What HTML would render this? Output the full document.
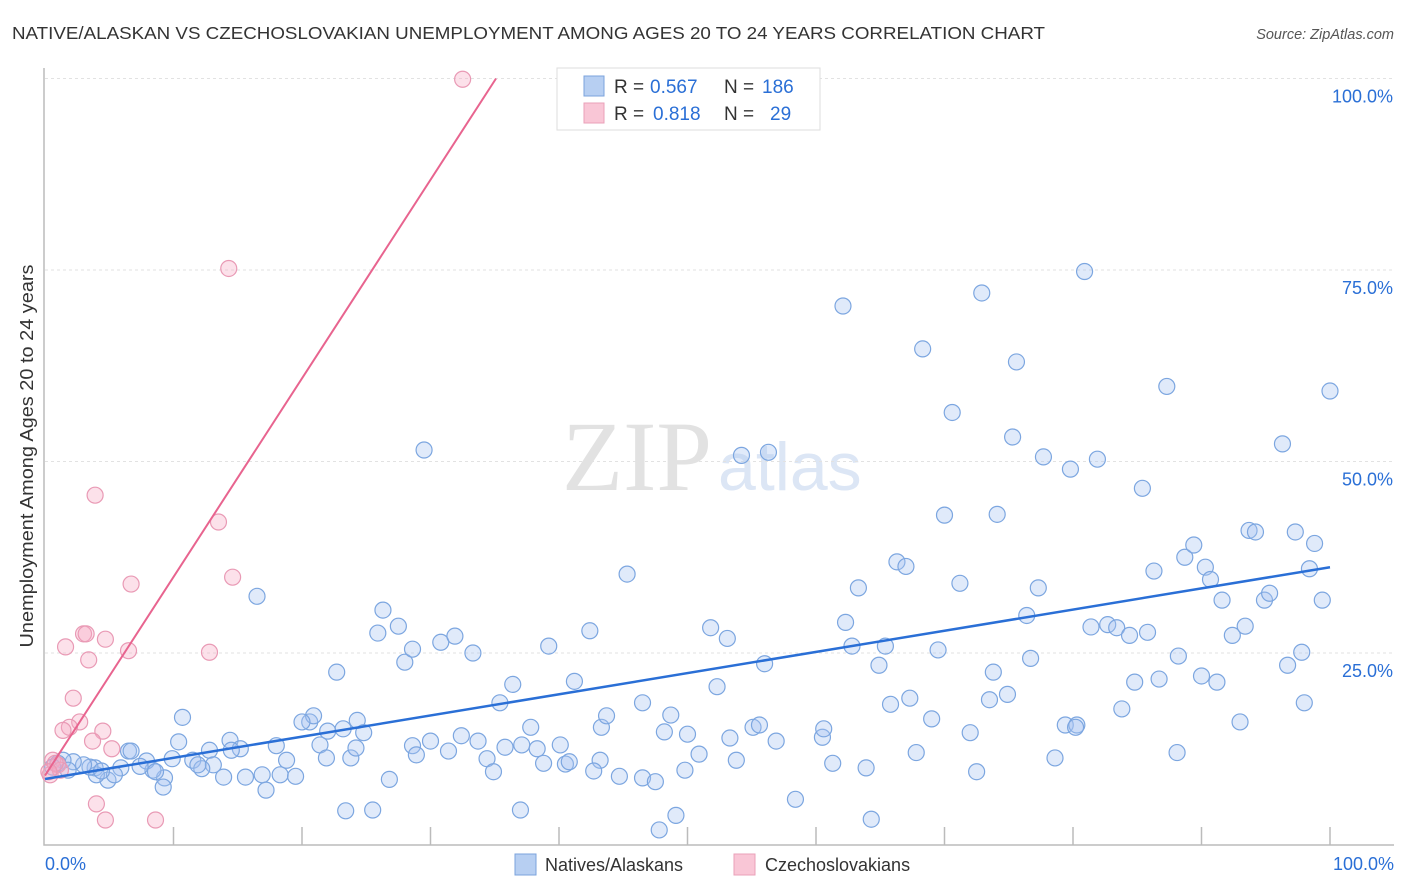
<!DOCTYPE html>
<html><head><meta charset="utf-8"><style>
body{margin:0;background:#fff;font-family:"Liberation Sans",sans-serif;}
svg{display:block}
</style></head><body>
<svg id="chart" width="1406" height="892" xmlns="http://www.w3.org/2000/svg">
<text x="12" y="39" font-size="17.5" fill="#333" textLength="1033" lengthAdjust="spacingAndGlyphs">NATIVE/ALASKAN VS CZECHOSLOVAKIAN UNEMPLOYMENT AMONG AGES 20 TO 24 YEARS CORRELATION CHART</text>
<text x="1394" y="39" font-size="14.5" fill="#555" font-style="italic" text-anchor="end">Source: ZipAtlas.com</text>
<g>
<text x="712" y="490" font-size="100" fill="#e2e2e2" text-anchor="end" font-family="Liberation Serif,serif">ZIP</text>
<text x="718" y="490" font-size="68" fill="#dce6f5">atlas</text>
</g>
<g id="grid"></g>
<g id="axes"></g>
<g id="pts"></g>
<g id="lines"></g>
<text x="33" y="456" font-size="18" fill="#333" text-anchor="middle" textLength="383" lengthAdjust="spacingAndGlyphs" transform="rotate(-90 33 456)">Unemployment Among Ages 20 to 24 years</text>
<g>
<rect x="557" y="68" width="263" height="62" fill="#fff" stroke="#ddd"/>
<rect x="584" y="76" width="20" height="20" fill="#b7cff2" stroke="#7ba3dc"/>
<rect x="584" y="103" width="20" height="20" fill="#f9c6d6" stroke="#eaa0b8"/>
<text x="614" y="93" font-size="19" fill="#333">R =</text>
<text x="650" y="93" font-size="19" fill="#2a6fd6">0.567</text>
<text x="724" y="93" font-size="19" fill="#333">N =</text>
<text x="762" y="93" font-size="19" fill="#2a6fd6">186</text>
<text x="614" y="120" font-size="19" fill="#333">R =</text>
<text x="653" y="120" font-size="19" fill="#2a6fd6">0.818</text>
<text x="724" y="120" font-size="19" fill="#333">N =</text>
<text x="770" y="120" font-size="19" fill="#2a6fd6">29</text>
</g>
<g>
<rect x="515" y="854" width="21" height="21" fill="#b7cff2" stroke="#7ba3dc"/>
<text x="545" y="871" font-size="18" fill="#333">Natives/Alaskans</text>
<rect x="734" y="854" width="21" height="21" fill="#f9c6d6" stroke="#eaa0b8"/>
<text x="765" y="871" font-size="18" fill="#333">Czechoslovakians</text>
</g>
</svg>
<script>
const blueX=[29.5,16.5,26.3,25.9,27.5,28.0,28.6,30.8,31.9,33.3,22.7,36.4,35.4,20.6,20.9,20.0,22.0,23.2,24.3,24.8,21.4,21.9,23.8,24.2,10.7,10.4,9.9,11.5,12.8,13.1,14.4,15.2,14.5,18.0,18.8,18.3,16.9,17.2,19.5,15.6,13.9,12.2,11.9,9.3,9.2,8.4,7.9,6.5,6.7,5.9,4.9,5.4,3.9,4.0,3.5,3.0,2.2,1.4,1.0,0.6,1.8,4.4,7.4,8.6,23.4,25.5,26.8,28.6,28.9,30.0,32.4,31.4,33.7,34.4,34.9,35.8,37.1,37.8,38.3,38.8,40.1,40.5,40.8,37.0,39.2,41.2,42.4,43.3,43.2,42.7,44.7,45.3,43.7,46.5,46.5,47.5,48.7,48.2,50.0,49.8,47.8,49.1,50.9,51.8,52.3,53.1,53.3,53.8,54.2,56.3,56.0,55.1,55.6,56.9,58.4,60.5,60.6,61.3,62.1,62.3,62.8,63.3,63.9,64.3,64.9,65.4,65.8,66.3,67.0,67.3,67.8,68.3,69.0,69.5,70.6,70.0,71.2,72.0,72.5,72.9,74.1,73.8,73.5,74.9,75.3,75.6,76.4,76.7,77.3,77.7,78.6,79.4,80.3,79.8,80.9,81.4,81.9,82.7,83.4,83.8,84.4,84.8,85.4,85.8,86.3,86.7,87.3,88.1,88.2,88.7,89.4,90.0,90.3,90.7,91.2,91.6,92.4,93.0,93.4,93.7,94.2,94.9,95.3,96.3,96.7,97.3,97.8,98.0,98.4,98.8,99.4,100.0,80.2];
const blueY=[51.5,32.4,30.6,27.6,28.5,23.8,25.5,26.4,27.2,25.0,22.5,20.9,18.5,16.0,16.8,16.0,14.8,15.1,16.2,14.6,13.0,11.3,11.3,12.6,16.6,13.4,11.2,11.0,12.3,10.4,13.6,12.5,12.3,12.9,11.0,9.1,9.1,7.1,8.9,8.8,8.8,9.9,10.4,8.7,7.5,9.7,10.9,12.2,12.2,10.0,8.4,9.1,10.0,9.1,10.1,10.4,10.8,11.0,10.6,10.1,9.7,9.6,10.2,9.5,4.4,4.5,8.5,12.9,11.7,13.5,14.2,12.2,13.5,11.2,9.5,12.7,13.0,15.3,12.5,10.6,13.0,10.5,10.8,4.5,25.9,21.3,27.9,15.3,11.0,9.6,8.9,35.3,16.8,18.5,8.7,8.2,16.9,14.7,14.4,9.7,1.9,3.8,11.8,28.3,20.6,26.9,13.9,11.0,50.8,51.2,23.6,15.3,15.6,13.5,5.9,14.0,15.1,10.6,70.3,29.0,25.9,33.5,10.0,3.3,23.4,25.9,18.3,36.9,36.3,19.1,12.0,64.7,16.4,25.4,56.4,43.0,34.1,14.6,9.5,72.0,43.1,22.5,18.9,19.6,53.2,63.0,29.9,24.3,33.5,50.6,11.3,15.6,15.6,49.0,74.8,28.4,50.3,28.7,28.3,17.7,27.3,21.2,46.5,27.7,35.7,21.6,59.8,12.0,24.6,37.5,39.1,22.0,36.2,34.6,21.2,31.9,27.3,16.0,28.5,41.0,40.8,31.9,32.8,52.3,23.4,40.8,25.1,18.5,36.0,39.3,31.9,59.2,15.3];
const pinkX=[32.5,14.3,3.9,13.5,14.6,6.7,3.0,3.2,4.7,1.6,6.5,12.8,3.4,2.2,2.7,1.9,1.4,4.5,3.7,5.2,4.0,4.7,8.6,0.6,1.0,0.4,1.2,0.8,0.3];
const pinkY=[99.9,75.2,45.6,42.1,34.9,34.0,27.5,27.5,26.8,25.8,25.3,25.1,24.1,19.1,16.0,15.3,14.9,14.8,13.5,12.5,5.3,3.2,3.2,11.0,10.4,9.1,9.7,10.6,9.5];
const blueLine=[[0,8.55],[100,36.2]];
const pinkLine=[[0,9.0],[35.1,100]];
const yTicks=[25,50,75,100];
const xTicks=[0,10,20,30,40,50,60,70,80,90,100];

const NS="http://www.w3.org/2000/svg";
const X=v=>45+v*12.85, Y=v=>844.5-v*7.66;
function mk(t,a,p){const e=document.createElementNS(NS,t);for(const k in a)e.setAttribute(k,a[k]);p.appendChild(e);return e;}
const grid=document.getElementById('grid'),axes=document.getElementById('axes');
yTicks.forEach(v=>{
 const l=mk('line',{x1:45,x2:1394,y1:Y(v),y2:Y(v),stroke:'#e2e2e2','stroke-dasharray':'3,3'},grid);
 
 
 const t=mk('text',{x:1393,y:Y(v)+24,'font-size':18,fill:'#2a6fd6','text-anchor':'end'},axes);
 t.textContent=v.toFixed(1)+'%';
 
 
});
const ax=mk('path',{d:`M44,68V845H1394`,stroke:'#bbb',fill:'none','stroke-width':1.5},axes);


xTicks.forEach(v=>{
 if(v===0)return;
 const l=mk('line',{x1:X(v),x2:X(v),y1:827,y2:845,stroke:'#bbb','stroke-width':1.5},axes);
 
 
});
[[0,'start',45],[100,'end',1394]].forEach(([v,a,x])=>{
 const t=mk('text',{x:x,y:870,'font-size':18,fill:'#2a6fd6','text-anchor':a},axes);
 t.textContent=v.toFixed(1)+'%';
 
 
});
const pts=document.getElementById('pts');
blueX.forEach((v,i)=>{
 const c=mk('circle',{cx:X(v),cy:Y(blueY[i]),r:8,fill:'rgba(165,195,240,0.35)',stroke:'#7ca6e0','stroke-width':1.2},pts);
 
 
});
pinkX.forEach((v,i)=>{
 const c=mk('circle',{cx:X(v),cy:Y(pinkY[i]),r:8,fill:'rgba(245,170,195,0.35)',stroke:'#e99ab5','stroke-width':1.2},pts);
 
 
});
const lines=document.getElementById('lines');
const bl=mk('line',{x1:X(blueLine[0][0]),y1:Y(blueLine[0][1]),x2:X(blueLine[1][0]),y2:Y(blueLine[1][1]),stroke:'#2a6fd6','stroke-width':2.5},lines);


const pl=mk('line',{x1:X(pinkLine[0][0]),y1:Y(pinkLine[0][1]),x2:X(pinkLine[1][0]),y2:Y(pinkLine[1][1]),stroke:'#e8648f','stroke-width':2},lines);


</script>
</body></html>
